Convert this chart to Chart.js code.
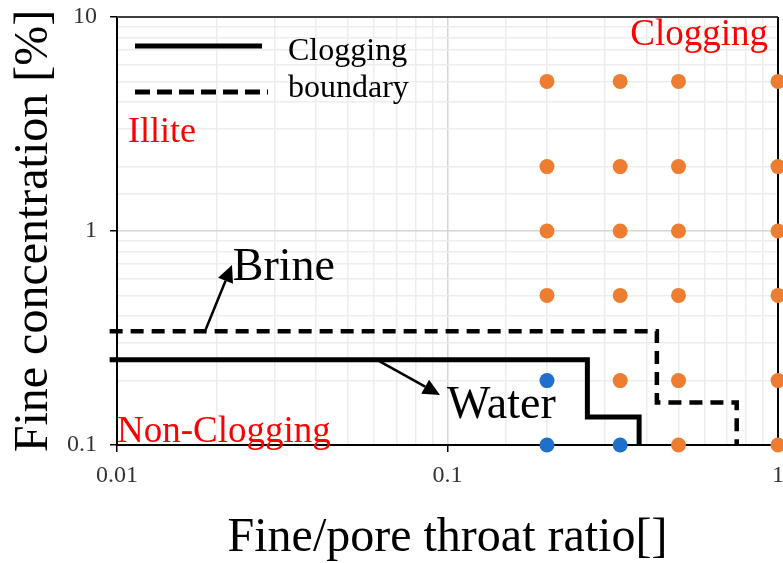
<!DOCTYPE html>
<html><head><meta charset="utf-8">
<script src="https://cdn.jsdelivr.net/npm/chart.js@4/dist/chart.umd.min.js"></script>
<style>html,body{margin:0;padding:0;background:#fff}#wrap{width:783px;height:563px;position:relative}</style>
</head><body><div id="wrap"><canvas id="c" width="783" height="563"></canvas></div>
<script>
// ---- data ----
const clogRatio = [0.2,0.2,0.2,0.2, 0.333,0.333,0.333,0.333,0.333, 0.5,0.5,0.5,0.5,0.5,0.5, 1,1,1,1,1,1];
const clogConc  = [5,2,1,0.5, 5,2,1,0.5,0.2, 5,2,1,0.5,0.2,0.1, 5,2,1,0.5,0.2,0.1];
const nonClogRatio = [0.2,0.2,0.333];
const nonClogConc  = [0.2,0.1,0.1];
const waterRatio = [0.0095,0.265,0.265,0.38,0.38];
const waterConc  = [0.25,0.25,0.135,0.135,0.1];
const brineRatio = [0.0095,0.43,0.43,0.75,0.75];
const brineConc  = [0.34,0.34,0.158,0.158,0.1];
const xTickLabels = ['0.01','0.1','1'];
const yTickLabels = ['0.1','1','10'];

// annotation anchors in data coordinates
const notes = [
  {text:'Brine', x:0.0224, y:0.59, size:46, color:'#000', align:'left'},
  {text:'Water', x:0.0997, y:0.1337, size:46, color:'#000', align:'left'},
  {text:'Clogging', x:0.933, y:7.4, size:37, color:'#ff0000', align:'right'},
  {text:'Illite', x:0.0108, y:2.606, size:36, color:'#ff0000', align:'left'},
  {text:'Non-Clogging', x:0.01, y:0.1033, size:37, color:'#ff0000', align:'left'}
];
const arrows = [
  {x1:0.01846, y1:0.34, x2:0.02228, y2:0.694},
  {x1:0.0612, y1:0.25, x2:0.0949, y2:0.1713}
];

const FONT = '"Liberation Serif", "Times New Roman", serif';
const toPts = (xs, ys) => xs.map((x, i) => ({x, y: ys[i]}));
const isMajor = v => Math.abs(Math.log10(v) - Math.round(Math.log10(v))) < 1e-6;
const labelFor = (v, list) => {
  if (!isMajor(v)) return '';
  const s = list.find(l => Math.abs(parseFloat(l) - v) < 1e-9);
  return s === undefined ? '' : s;
};

const decor = {
  id: 'decor',
  beforeDatasetsDraw(chart) {
    const {ctx, chartArea: a} = chart;
    ctx.save();
    ctx.lineWidth = 2;
    ctx.strokeStyle = '#404040';
    ctx.beginPath(); ctx.moveTo(a.left, a.top); ctx.lineTo(a.right, a.top); ctx.stroke();
    ctx.strokeStyle = '#000';
    ctx.beginPath(); ctx.moveTo(a.right, a.top); ctx.lineTo(a.right, a.bottom); ctx.stroke();
    ctx.restore();
  },
  afterDraw(chart) {
    const {ctx, chartArea: a, scales} = chart;
    const X = v => scales.x.getPixelForValue(v), Y = v => scales.y.getPixelForValue(v);
    ctx.save();
    // legend
    ctx.strokeStyle = '#000';
    ctx.lineWidth = 5;
    ctx.beginPath(); ctx.moveTo(a.left + 18, a.top + 29); ctx.lineTo(a.left + 145, a.top + 29); ctx.stroke();
    ctx.setLineDash([15, 7]);
    ctx.beginPath(); ctx.moveTo(a.left + 18, a.top + 75); ctx.lineTo(a.left + 151, a.top + 75); ctx.stroke();
    ctx.setLineDash([]);
    ctx.fillStyle = '#000';
    ctx.font = '32px ' + FONT;
    ctx.textAlign = 'left'; ctx.textBaseline = 'alphabetic';
    ctx.fillText('Clogging', a.left + 171, a.top + 43);
    ctx.fillText('boundary', a.left + 171, a.top + 80);
    // notes
    notes.forEach(n => {
      ctx.font = n.size + 'px ' + FONT;
      ctx.fillStyle = n.color;
      ctx.textAlign = n.align;
      ctx.fillText(n.text, X(n.x), Y(n.y));
    });
    // arrows
    ctx.strokeStyle = '#000'; ctx.fillStyle = '#000'; ctx.lineWidth = 2.5;
    arrows.forEach(r => {
      const x1 = X(r.x1), y1 = Y(r.y1), x2 = X(r.x2), y2 = Y(r.y2);
      const ang = Math.atan2(y2 - y1, x2 - x1), L = 17, W = 8;
      const bx = x2 - L * Math.cos(ang), by = y2 - L * Math.sin(ang);
      ctx.beginPath(); ctx.moveTo(x1, y1); ctx.lineTo(bx, by); ctx.stroke();
      ctx.beginPath();
      ctx.moveTo(x2, y2);
      ctx.lineTo(bx + W * Math.sin(ang), by - W * Math.cos(ang));
      ctx.lineTo(bx - W * Math.sin(ang), by + W * Math.cos(ang));
      ctx.closePath(); ctx.fill();
    });
    ctx.restore();
  }
};

new Chart(document.getElementById('c'), {
  type: 'scatter',
  data: {
    datasets: [
      {label: 'Water', type: 'line', data: toPts(waterRatio, waterConc), borderColor: '#000', borderWidth: 5,
       pointRadius: 0, fill: false, tension: 0, clip: false, borderJoinStyle: 'miter', order: 1},
      {label: 'Brine', type: 'line', data: toPts(brineRatio, brineConc), borderColor: '#000', borderWidth: 4.5,
       borderDash: [13, 8], pointRadius: 0, fill: false, tension: 0, clip: false, borderJoinStyle: 'miter', order: 1},
      {label: 'Clogging', data: toPts(clogRatio, clogConc), backgroundColor: '#ED7D31', borderColor: '#ED7D31',
       pointRadius: 7.5, borderWidth: 0, clip: false, order: 2},
      {label: 'Non-Clogging', data: toPts(nonClogRatio, nonClogConc), backgroundColor: '#1F6FCB', borderColor: '#1F6FCB',
       pointRadius: 7.5, borderWidth: 0, clip: false, order: 2}
    ]
  },
  options: {
    responsive: false,
    animation: false,
    devicePixelRatio: 1,
    layout: {autoPadding: false, padding: {top: 17, right: 5, left: 0, bottom: 0}},
    plugins: {legend: {display: false}, tooltip: {enabled: false}},
    scales: {
      x: {
        type: 'logarithmic', min: 0.01, max: 1,
        afterFit: s => { s.height = 118; s.paddingLeft = 0; s.paddingRight = 0; },
        border: {display: true, color: '#000', width: 2},
        grid: {
          color: c => isMajor(c.tick.value) ? '#d6d6d6' : '#ededed',
          lineWidth: 1.5,
          tickLength: 7,
          tickColor: c => isMajor(c.tick.value) ? '#000' : 'rgba(0,0,0,0)',
          tickWidth: 1.5
        },
        ticks: {
          autoSkip: false, maxRotation: 0, padding: 9, color: '#333',
          font: {family: FONT, size: 24},
          callback: v => labelFor(v, xTickLabels)
        },
        title: {display: true, text: 'Fine/pore throat ratio[]', color: '#000',
                font: {family: FONT, size: 48, lineHeight: 1}, padding: {top: 0, bottom: 1}}
      },
      y: {
        type: 'logarithmic', min: 0.1, max: 10,
        afterFit: s => { s.width = 117; s.paddingTop = 0; s.paddingBottom = 0; },
        border: {display: true, color: '#000', width: 2},
        grid: {
          color: c => isMajor(c.tick.value) ? '#d6d6d6' : '#ededed',
          lineWidth: 1.5,
          tickLength: 7,
          tickColor: c => isMajor(c.tick.value) ? '#000' : 'rgba(0,0,0,0)',
          tickWidth: 1.5
        },
        ticks: {
          autoSkip: false, padding: 13, color: '#333',
          font: {family: FONT, size: 24},
          callback: v => labelFor(v, yTickLabels)
        },
        title: {display: true, text: 'Fine concentration [%]', color: '#000',
                font: {family: FONT, size: 48, lineHeight: 1}, padding: {top: 10, bottom: 0}}
      }
    }
  },
  plugins: [decor]
});
</script></body></html>
